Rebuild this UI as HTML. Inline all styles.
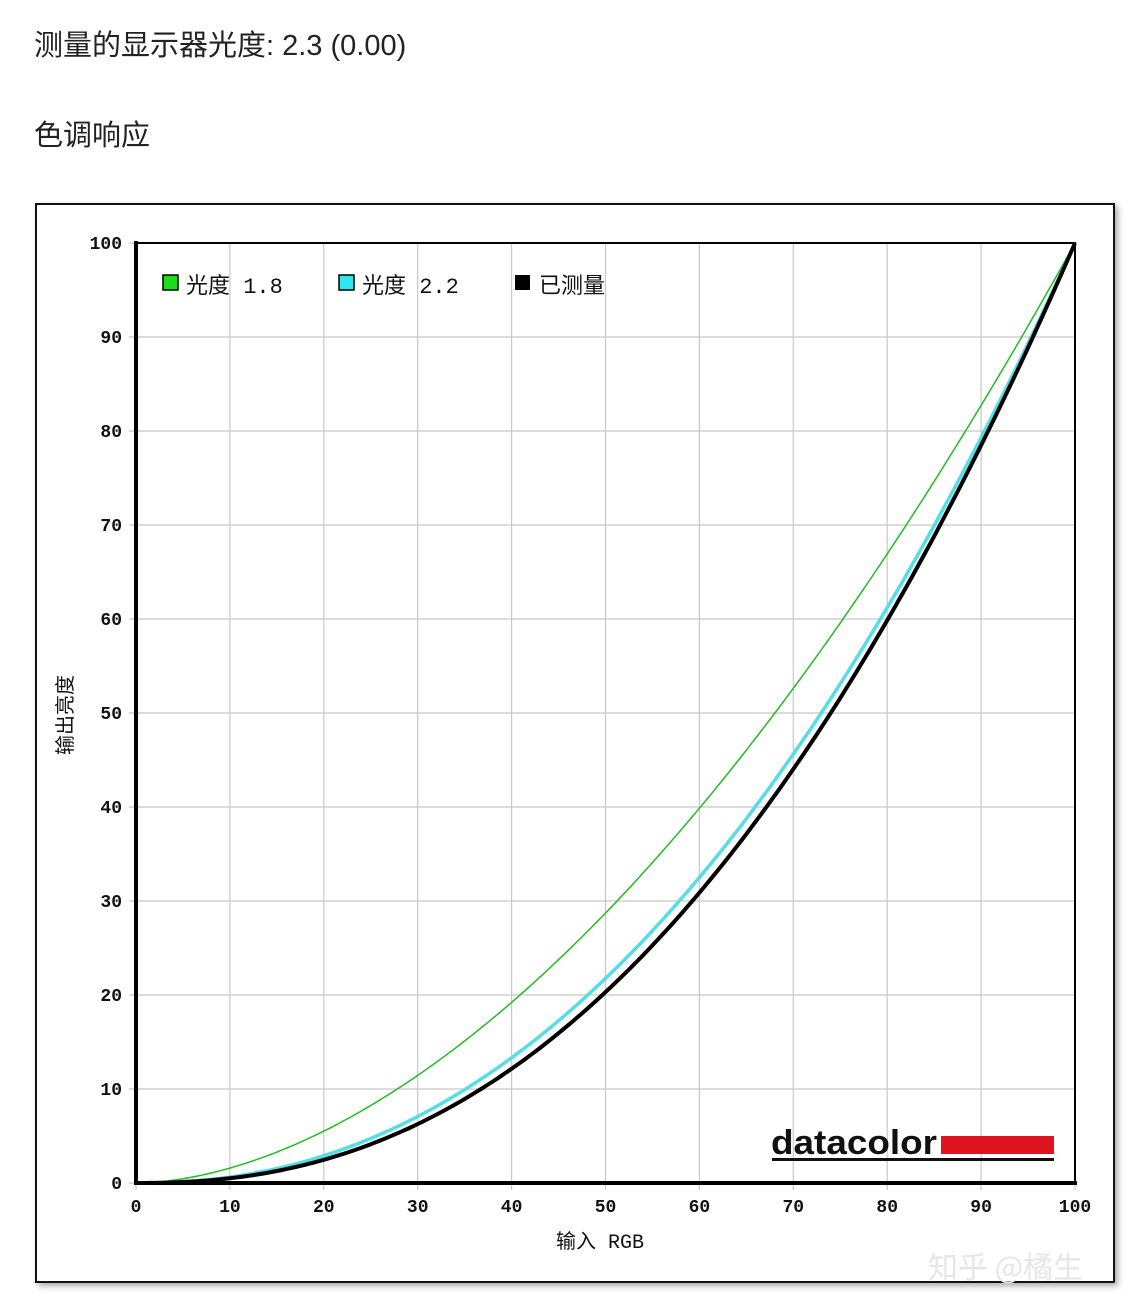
<!DOCTYPE html>
<html><head><meta charset="utf-8"><style>
body{margin:0;background:#fff;width:1134px;height:1314px;overflow:hidden;font-family:"Liberation Sans","Noto Sans CJK SC",sans-serif}
.t{position:absolute;left:34px;font-size:29px;color:#222}
#box{position:absolute;left:35px;top:203px;width:1076px;height:1076px;border:2px solid #111;box-shadow:3px 3px 6px #aaa;background:#fff}
svg{position:absolute;left:0;top:0}
</style></head><body>
<div class="t" style="top:22px">测量的显示器光度: 2.3 (0.00)</div>
<div class="t" style="top:112px">色调响应</div>
<div id="box"></div>
<svg width="1134" height="1314" id="s" font-family="'Liberation Mono','Noto Sans CJK SC',monospace">
<g id="grid" stroke="#c8c8c8" stroke-width="1.2"></g>
<g id="labels" font-size="18" fill="#111" font-weight="bold"></g>
<rect x="136" y="243" width="939" height="940" fill="none" stroke="#000" stroke-width="2"/>
<line x1="136" y1="241" x2="136" y2="1185" stroke="#000" stroke-width="4"/>
<line x1="134" y1="1183" x2="1077" y2="1183" stroke="#000" stroke-width="4"/>
<path id="g18" fill="none" stroke="#22bb22" stroke-width="1.5"/>
<path id="g22" fill="none" stroke="#55dde8" stroke-width="3.5"/>
<path id="g23" fill="none" stroke="#000" stroke-width="4"/>
<rect x="163" y="275" width="15" height="15" fill="#1ddc1d" stroke="#000" stroke-width="1.5"/>
<text x="186" y="293" font-size="22" fill="#111">光度 1.8</text>
<rect x="339" y="275" width="15" height="15" fill="#33e5ee" stroke="#000" stroke-width="1.5"/>
<text x="362" y="293" font-size="22" fill="#111">光度 2.2</text>
<rect x="515" y="275" width="15" height="15" fill="#000"/>
<text x="539" y="293" font-size="22" fill="#111" font-family="'Noto Sans CJK SC',sans-serif">已测量</text>
<text x="771" y="1154" font-size="34" font-weight="bold" fill="#111" font-family="'Liberation Sans',sans-serif" textLength="166" lengthAdjust="spacingAndGlyphs">datacolor</text>
<rect x="941" y="1136" width="113" height="18" fill="#e0141e"/>
<rect x="772" y="1158" width="282" height="3" fill="#111"/>
<text x="556" y="1248" font-size="20" fill="#111">输入 RGB</text>
<text transform="translate(72,715) rotate(-90)" font-size="20" fill="#111" text-anchor="middle" font-family="'Noto Sans CJK SC',sans-serif">输出亮度</text>
<text x="928" y="1278" font-size="30" fill="#e6e6e6" font-family="'Noto Sans CJK SC',sans-serif">知乎 @橘生</text>
</svg>
<script>
var X=v=>136+v*9.39,Y=v=>1183-v*9.4,ns="http://www.w3.org/2000/svg";
var g=document.getElementById('grid'),L=document.getElementById('labels');
for(var i=0;i<=10;i++){var v=i*10;
 var a=document.createElementNS(ns,'line');a.setAttribute('x1',X(v));a.setAttribute('x2',X(v));a.setAttribute('y1',243);a.setAttribute('y2',1190);g.appendChild(a);
 var b=document.createElementNS(ns,'line');b.setAttribute('y1',Y(v));b.setAttribute('y2',Y(v));b.setAttribute('x1',129);b.setAttribute('x2',1075);g.appendChild(b);
 var t=document.createElementNS(ns,'text');t.setAttribute('x',X(v));t.setAttribute('y',1212);t.setAttribute('text-anchor','middle');t.textContent=v;L.appendChild(t);
 var u=document.createElementNS(ns,'text');u.setAttribute('x',122);u.setAttribute('y',Y(v)+6);u.setAttribute('text-anchor','end');u.textContent=v;L.appendChild(u);}
function p(gm){var d='';for(var i=0;i<=200;i++){var v=i/2;d+=(i?'L':'M')+X(v).toFixed(1)+' '+Y(100*Math.pow(v/100,gm)).toFixed(1);}return d;}
document.getElementById('g18').setAttribute('d',p(1.8));
document.getElementById('g22').setAttribute('d',p(2.2));
document.getElementById('g23').setAttribute('d',p(2.3));
</script>
</body></html>
